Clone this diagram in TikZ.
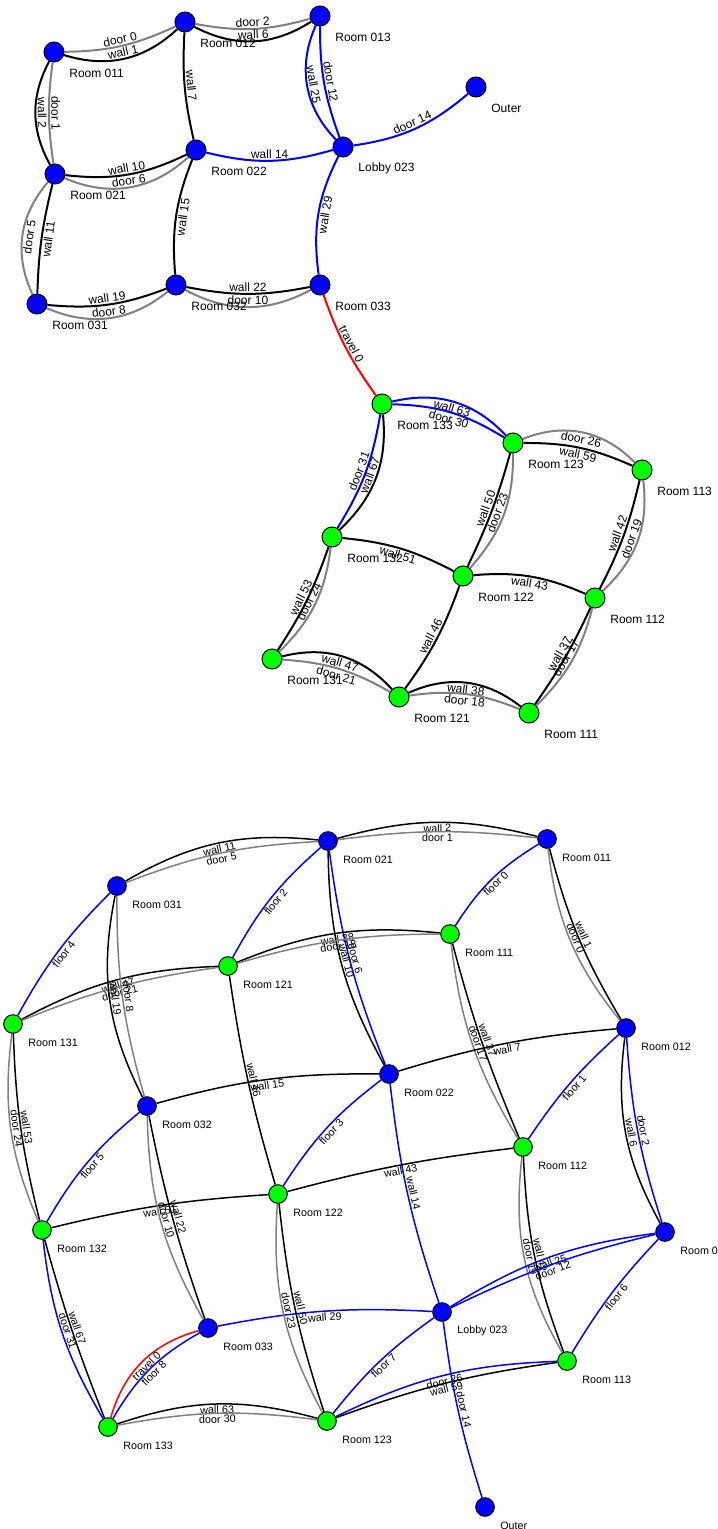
\documentclass[tikz,border=0pt]{standalone}
\usepackage{fontspec}
\setmainfont{Liberation Sans}
\usetikzlibrary{calc,backgrounds}
\definecolor{ngreen}{RGB}{0,255,0}
\definecolor{nblue}{RGB}{0,0,255}
\definecolor{egray}{RGB}{128,128,128}
\newcommand{\placeA}[5]{%
  \node[ndA, fill=#4] (#1) at (#2,#3) {};
  \node[txA] (#1t) at ($(#1)+(15,21)$) {#5};}
\newcommand{\placeB}[5]{%
  \node[ndB, fill=#4] (#1) at (#2,#3) {};
  \node[txB] (#1t) at ($(#1)+(15,18.5)$) {#5};}
\begin{document}
\begin{tikzpicture}[x=0.5pt,y=-0.5pt,
  ndA/.style={circle, draw=black, line width=0.5pt, minimum size=10pt, inner sep=0pt},
  ndB/.style={circle, draw=black, line width=0.5pt, minimum size=9.3pt, inner sep=0pt},
  txA/.style={anchor=west, inner sep=0pt, font=\fontsize{6}{7}\selectfont},
  txB/.style={anchor=west, inner sep=0pt, font=\fontsize{5.35}{6}\selectfont},
  labA/.style={midway, sloped, inner sep=0.7pt, font=\fontsize{6}{7}\selectfont},
  labB/.style={midway, sloped, inner sep=0.6pt, font=\fontsize{5.4}{6}\selectfont},
  eA/.style={line width=1pt},
  eB/.style={line width=0.75pt},
  wallE/.style={draw=black},
  doorE/.style={draw=egray},
  blueE/.style={draw=nblue},
  redE/.style={draw=red}]
\useasboundingbox (0,0) rectangle (717,1529);
\clip (0,0) rectangle (717,1529);
% ---------- top graph nodes ----------
\placeA{a011}{54}{52}{nblue}{Room 011}
\placeA{a012}{185}{22}{nblue}{Room 012}
\placeA{a013}{320}{16}{nblue}{Room 013}
\placeA{aOut}{476}{87}{nblue}{Outer}
\placeA{aL023}{343}{147}{nblue}{Lobby 023}
\placeA{a022}{196}{150}{nblue}{Room 022}
\placeA{a021}{55}{174}{nblue}{Room 021}
\placeA{a031}{37}{304}{nblue}{Room 031}
\placeA{a032}{176}{285}{nblue}{Room 032}
\placeA{a033}{320}{285}{nblue}{Room 033}
\placeA{a133}{382}{404}{ngreen}{Room 133}
\placeA{a123}{513}{443}{ngreen}{Room 123}
\placeA{a113}{642}{470}{ngreen}{Room 113}
\placeA{a132}{332}{537}{ngreen}{Room 132}
\placeA{a122}{463}{576}{ngreen}{Room 122}
\placeA{a112}{595}{598}{ngreen}{Room 112}
\placeA{a131}{272}{659}{ngreen}{Room 131}
\placeA{a121}{399}{697}{ngreen}{Room 121}
\placeA{a111}{529}{713}{ngreen}{Room 111}
% ---------- bottom graph nodes ----------
\placeB{b021}{328}{841}{nblue}{Room 021}
\placeB{b011}{547}{839}{nblue}{Room 011}
\placeB{b031}{117}{886}{nblue}{Room 031}
\placeB{b111}{450}{934}{ngreen}{Room 111}
\placeB{b121}{228}{966}{ngreen}{Room 121}
\placeB{b131}{13}{1024}{ngreen}{Room 131}
\placeB{b012}{626}{1028}{nblue}{Room 012}
\placeB{b022}{389}{1074}{nblue}{Room 022}
\placeB{b032}{147}{1106}{nblue}{Room 032}
\placeB{b112}{523}{1147}{ngreen}{Room 112}
\placeB{b122}{278}{1194}{ngreen}{Room 122}
\placeB{b132}{42}{1230}{ngreen}{Room 132}
\placeB{b013}{665}{1232}{nblue}{Room 013}
\placeB{bL023}{442}{1312}{nblue}{Lobby 023}
\placeB{b033}{208}{1328}{nblue}{Room 033}
\placeB{b113}{567}{1361}{ngreen}{Room 113}
\placeB{b133}{108}{1427}{ngreen}{Room 133}
\placeB{b123}{327}{1421}{ngreen}{Room 123}
\placeB{bOut}{485}{1507}{nblue}{Outer}
\begin{pgfonlayer}{background}
% ---------- top graph edges ----------
\begin{scope}[eA]
\draw[doorE] (a011) to[bend right=12] node[labA,above]{door 0} (a012);
\draw[wallE] (a011) to[bend right=30] node[labA,above]{wall 1} (a012);
\draw[doorE] (a012) to[bend right=13] node[labA,above]{door 2} (a013);
\draw[wallE] (a012) to[bend right=30] node[labA,above]{wall 6} (a013);
\draw[wallE] (a011) to[bend right=28] node[labA,above]{wall 2} (a021);
\draw[doorE] (a011) to[bend right=8] node[labA,above]{door 1} (a021);
\draw[wallE] (a012) to[bend right=8] node[labA,above]{wall 7} (a022);
\draw[blueE] (a013) to[bend right=34] node[labA,above]{wall 25} (aL023);
\draw[blueE] (a013) to[bend right=10] node[labA,above]{door 12} (aL023);
\draw[blueE] (aL023) to[bend right=16] node[labA,above]{door 14} (aOut);
\draw[blueE] (a022) to[bend right=15] node[labA,above]{wall 14} (aL023);
\draw[wallE] (a021) to[bend right=16] node[labA,above]{wall 10} (a022);
\draw[doorE] (a021) to[bend right=33] node[labA,above]{door 6} (a022);
\draw[doorE] (a031) to[bend left=33] node[labA,below]{door 5} (a021);
\draw[wallE] (a031) to[bend left=6] node[labA,below]{wall 11} (a021);
\draw[wallE] (a032) to[bend left=13] node[labA,below]{wall 15} (a022);
\draw[wallE] (a031) to[bend right=13] node[labA,above]{wall 19} (a032);
\draw[doorE] (a031) to[bend right=31] node[labA,above]{door 8} (a032);
\draw[wallE] (a032) to[bend right=11] node[labA,above]{wall 22} (a033);
\draw[doorE] (a032) to[bend right=28] node[labA,above]{door 10} (a033);
\draw[blueE] (a033) to[bend left=17] node[labA,below]{wall 29} (aL023);
\draw[redE] (a033) to[bend right=8] node[labA,above]{travel 0} (a133);
\draw[blueE] (a133) to[bend left=30] node[labA,below]{wall 63} (a123);
\draw[blueE] (a133) to[bend left=15] node[labA,below]{door 30} (a123);
\draw[blueE] (a132) to[bend right=11] node[labA,above]{door 31} (a133);
\draw[wallE] (a132) to[bend right=26] node[labA,above]{wall 67} (a133);
\draw[doorE] (a123) to[bend left=34] node[labA,below]{door 26} (a113);
\draw[wallE] (a123) to[bend left=12] node[labA,below]{wall 59} (a113);
\draw[wallE] (a122) to[bend right=5] node[labA,above]{wall 50} (a123);
\draw[doorE] (a122) to[bend right=21] node[labA,above]{door 23} (a123);
\draw[wallE] (a112) to[bend right=7] node[labA,above]{wall 42} (a113);
\draw[doorE] (a112) to[bend right=27] node[labA,above]{door 19} (a113);
\draw[wallE] (a132) to[bend left=11] node[labA,below]{wall 51} (a122);
\draw[wallE] (a122) to[bend left=14] node[labA,below]{wall 43} (a112);
\draw[wallE] (a131) to[bend right=7] node[labA,above]{wall 53} (a132);
\draw[doorE] (a131) to[bend right=19] node[labA,above]{door 24} (a132);
\draw[wallE] (a121) to[bend right=8] node[labA,above]{wall 46} (a122);
\draw[wallE] (a131) to[bend left=31] node[labA,below]{wall 47} (a121);
\draw[doorE] (a131) to[bend left=13] node[labA,below]{door 21} (a121);
\draw[wallE] (a121) to[bend left=31] node[labA,below]{wall 38} (a111);
\draw[doorE] (a121) to[bend left=15] node[labA,below]{door 18} (a111);
\draw[wallE] (a111) to[bend right=5] node[labA,above]{wall 37} (a112);
\draw[doorE] (a111) to[bend right=15] node[labA,above]{door 17} (a112);
\end{scope}
% ---------- bottom graph edges ----------
\begin{scope}[eB]
\draw[wallE] (b021) to[bend left=15] node[labB,below]{wall 2} (b011);
\draw[doorE] (b021) to[bend left=7] node[labB,below]{door 1} (b011);
\draw[wallE] (b031) to[bend left=18] node[labB,below]{wall 11} (b021);
\draw[doorE] (b031) to[bend left=9] node[labB,below]{door 5} (b021);
\draw[blueE] (b131) to[bend left=8] node[labB,below]{floor 4} (b031);
\draw[blueE] (b121) to[bend left=10] node[labB,below]{floor 2} (b021);
\draw[blueE] (b111) to[bend left=13] node[labB,below]{floor 0} (b011);
\draw[wallE] (b011) to[bend right=8] node[labB,above]{wall 1} (b012);
\draw[doorE] (b011) to[bend right=16] node[labB,above]{door 0} (b012);
\draw[wallE] (b021) to[bend right=14] node[labB,above]{wall 10} (b022);
\draw[blueE] (b021) to[bend right=7] node[labB,above]{door 6} (b022);
\draw[wallE] (b121) to[bend left=14] node[labB,below]{wall 38} (b111);
\draw[doorE] (b121) to[bend left=8] node[labB,below]{door 18} (b111);
\draw[wallE] (b131) to[bend left=13] node[labB,below]{wall 47} (b121);
\draw[doorE] (b131) to[bend left=7] node[labB,below]{door 21} (b121);
\draw[wallE] (b031) to[bend right=19] node[labB,above]{wall 19} (b032);
\draw[doorE] (b031) to[bend right=8] node[labB,above]{door 8} (b032);
\draw[wallE] (b131) to[bend right=6] node[labB,above]{wall 53} (b132);
\draw[doorE] (b131) to[bend right=15] node[labB,above]{door 24} (b132);
\draw[wallE] (b121) to[bend right=4] node[labB,above]{wall 46} (b122);
\draw[wallE] (b032) to[bend left=8] node[labB,below]{wall 15} (b022);
\draw[wallE] (b111) to[bend right=4] node[labB,above]{wall 37} (b112);
\draw[doorE] (b111) to[bend right=12] node[labB,above]{door 17} (b112);
\draw[wallE] (b022) to[bend left=6] node[labB,below]{wall 7} (b012);
\draw[blueE] (b112) to[bend left=7] node[labB,below]{floor 1} (b012);
\draw[wallE] (b012) to[bend right=18] node[labB,above]{wall 6} (b013);
\draw[blueE] (b012) to[bend right=7] node[labB,above]{door 2} (b013);
\draw[blueE] (b132) to[bend left=10] node[labB,below]{floor 5} (b032);
\draw[blueE] (b122) to[bend left=10] node[labB,below]{floor 3} (b022);
\draw[blueE] (b022) to[bend right=6] node[labB,above]{wall 14} (bL023);
\draw[wallE] (b132) to[bend left=5] node[labB,below]{wall 51} (b122);
\draw[wallE] (b032) to[bend right=4] node[labB,above]{wall 22} (b033);
\draw[doorE] (b032) to[bend right=14] node[labB,above]{door 10} (b033);
\draw[wallE] (b122) to[bend left=4] node[labB,below]{wall 43} (b112);
\draw[wallE] (b132) to[bend right=3] node[labB,above]{wall 67} (b133);
\draw[blueE] (b132) to[bend right=12] node[labB,above]{door 31} (b133);
\draw[wallE] (b112) to[bend right=9] node[labB,above]{wall 42} (b113);
\draw[doorE] (b112) to[bend right=18] node[labB,above]{door 19} (b113);
\draw[blueE] (bL023) to[bend left=12] node[labB,below]{wall 25} (b013);
\draw[blueE] (bL023) to[bend left=6] node[labB,below]{door 12} (b013);
\draw[blueE] (b113) to[bend left=6] node[labB,below]{floor 6} (b013);
\draw[blueE] (b033) to[bend left=7] node[labB,below]{wall 29} (bL023);
\draw[redE] (b133) to[bend left=29] node[labB,below]{travel 0} (b033);
\draw[blueE] (b133) to[bend left=15] node[labB,below]{floor 8} (b033);
\draw[wallE] (b133) to[bend left=17] node[labB,below]{wall 63} (b123);
\draw[doorE] (b133) to[bend left=9] node[labB,below]{door 30} (b123);
\draw[wallE] (b122) to[bend right=6] node[labB,above]{wall 50} (b123);
\draw[doorE] (b122) to[bend right=16] node[labB,above]{door 23} (b123);
\draw[blueE] (b123) to[bend left=8] node[labB,below]{floor 7} (bL023);
\draw[blueE] (b123) to[bend left=12] node[labB,below]{door 26} (b113);
\draw[wallE] (b123) to[bend left=6] node[labB,below]{wall 59} (b113);
\draw[blueE] (bL023) to[bend right=5] node[labB,above]{door 14} (bOut);
\end{scope}
\end{pgfonlayer}
\end{tikzpicture}
\end{document}
